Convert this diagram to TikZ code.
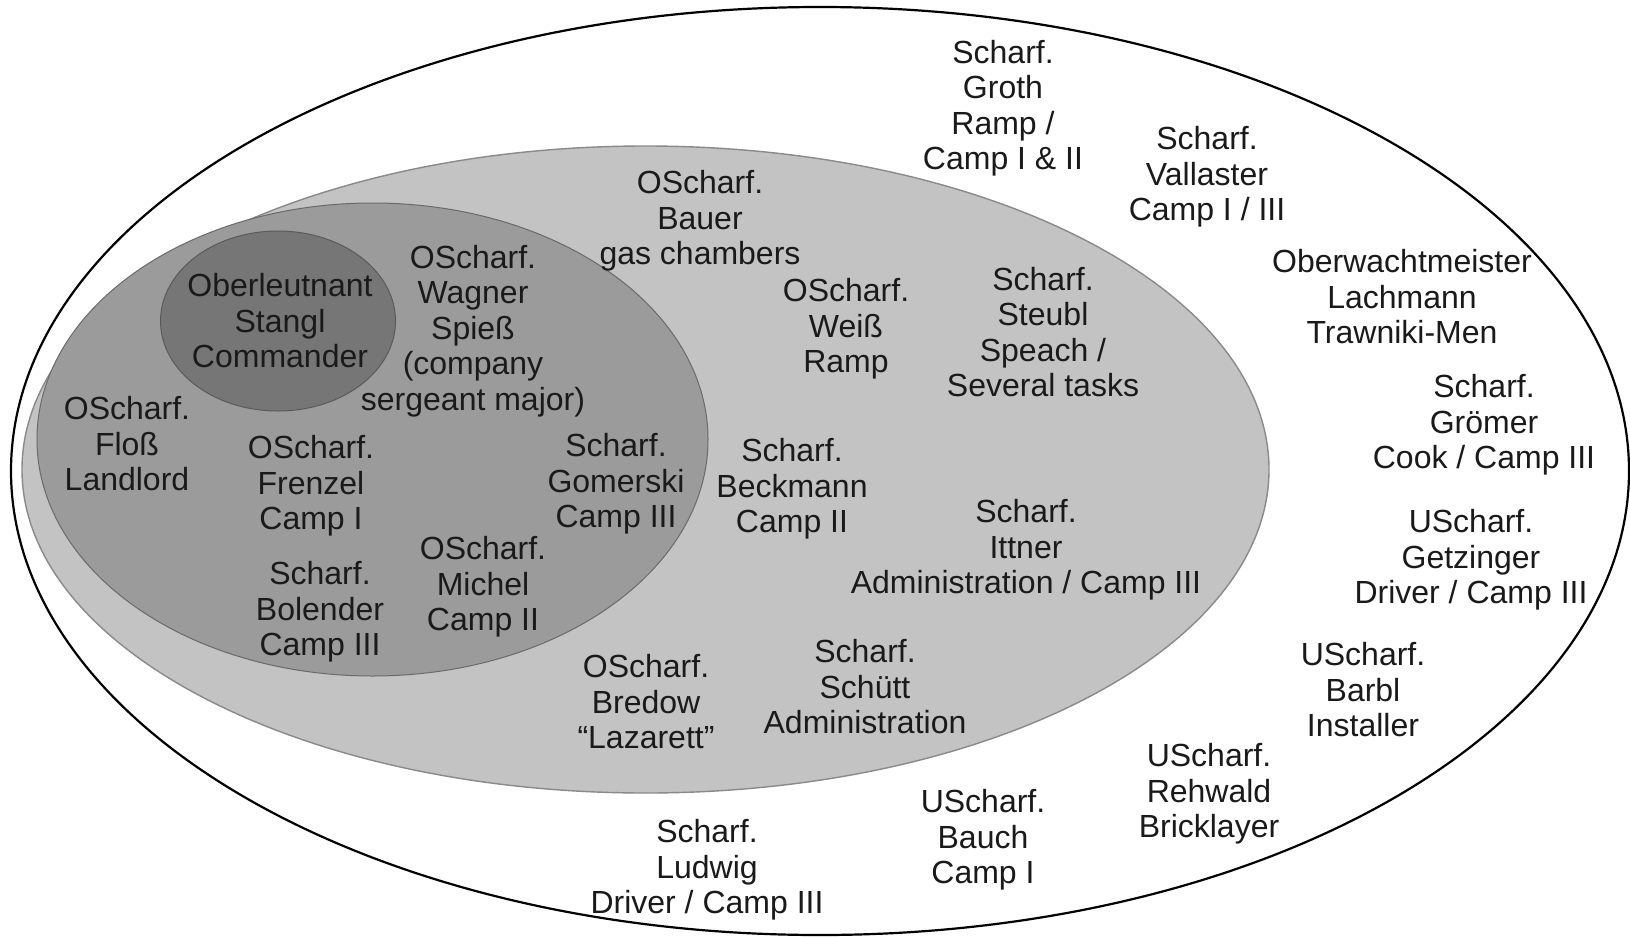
\documentclass[tikz,border=0pt]{standalone}
\usepackage{fontspec}
\setmainfont{Liberation Sans}
\begin{document}
\begin{tikzpicture}[x=1pt,y=-1pt,
  lbl/.style={align=center,inner sep=0pt,text=txtgray,font=\fontsize{32pt}{35.5pt}\selectfont},
  outerring/.style={draw=black,line width=2.2pt,fill=white},
  midring/.style={draw=ringedge,line width=1.4pt,fill=lightfill},
  innerring/.style={draw=inneredge,line width=1pt,fill=medfill},
  corering/.style={draw=coreedge,line width=1pt,fill=darkfill}]
\definecolor{txtgray}{HTML}{1A1A1A}
\definecolor{lightfill}{HTML}{C3C3C3}
\definecolor{ringedge}{HTML}{8A8A8A}
\definecolor{medfill}{HTML}{9B9B9B}
\definecolor{inneredge}{HTML}{6A6A6A}
\definecolor{darkfill}{HTML}{767676}
\definecolor{coreedge}{HTML}{5A5A5A}
\useasboundingbox[fill=white] (0,0) rectangle (1630,937);
\path[outerring] (820,471) ellipse [x radius=809, y radius=464];
\path[midring] (645.5,469.5) ellipse [x radius=623.5, y radius=323.5];
\path[innerring] (372.5,439.5) ellipse [x radius=335.5, y radius=236.5];
\path[corering] (278,321) ellipse [x radius=117.5, y radius=90];
% outer ring labels
\node[lbl] (groth) at (1003,108) {Scharf.\\Groth\\Ramp /\\Camp I \& II};
\node[lbl] (vallaster) at (1207,177) {Scharf.\\Vallaster\\Camp I / III};
\node[lbl] (lachmann) at (1402,297) {Oberwachtmeister\\Lachmann\\Trawniki-Men};
\node[lbl] (groemer) at (1484,425) {Scharf.\\Grömer\\Cook / Camp III};
\node[lbl] (getzinger) at (1471,560) {UScharf.\\Getzinger\\Driver / Camp III};
\node[lbl] (barbl) at (1363,690) {UScharf.\\Barbl\\Installer};
\node[lbl] (rehwald) at (1209,794) {UScharf.\\Rehwald\\Bricklayer};
\node[lbl] (bauch) at (983,840) {UScharf.\\Bauch\\Camp I};
\node[lbl] (ludwig) at (707,870) {Scharf.\\Ludwig\\Driver / Camp III};
% middle ring labels
\node[lbl] (bredow) at (646,702) {OScharf.\\Bredow\\“Lazarett”};
\node[lbl] (schuett) at (865,687) {Scharf.\\Schütt\\Administration};
\node[lbl] (ittner) at (1026,550) {Scharf.\\Ittner\\Administration / Camp III};
\node[lbl] (beckmann) at (792,489) {Scharf.\\Beckmann\\Camp II};
\node[lbl] (steubl) at (1043,332) {Scharf.\\Steubl\\Speach /\\Several tasks};
\node[lbl] (weiss) at (846,329) {OScharf.\\Weiß\\Ramp};
\node[lbl] (bauer) at (700,221) {OScharf.\\Bauer\\gas chambers};
% inner ring labels
\node[lbl] (wagner) at (473,331) {OScharf.\\Wagner\\Spieß\\(company\\sergeant major)};
\node[lbl] (stangl) at (280,321) {Oberleutnant\\Stangl\\Commander};
\node[lbl] (floss) at (127,444) {OScharf.\\Floß\\Landlord};
\node[lbl] (frenzel) at (311,486) {OScharf.\\Frenzel\\Camp I};
\node[lbl] (gomerski) at (616,484) {Scharf.\\Gomerski\\Camp III};
\node[lbl] (michel) at (483,587) {OScharf.\\Michel\\Camp II};
\node[lbl] (bolender) at (320,612) {Scharf.\\Bolender\\Camp III};
\end{tikzpicture}
\end{document}
